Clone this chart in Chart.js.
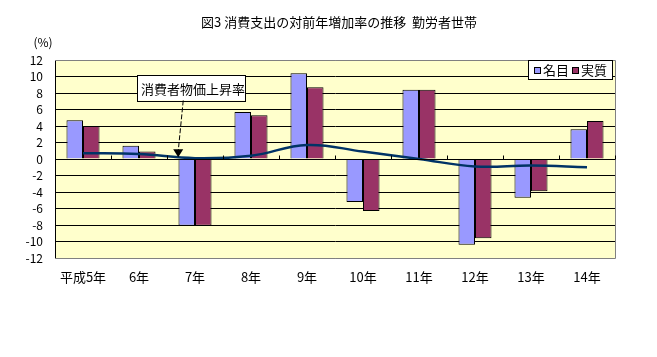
<!DOCTYPE html>
<html>
<head>
<meta charset="utf-8">
<script src="https://cdn.jsdelivr.net/npm/chart.js@4"></script>
<style>
  html, body { margin: 0; padding: 0; background: #fff; }
  #wrap { width: 657px; height: 357px; position: relative; }
</style>
</head>
<body>
<div id="wrap"><canvas id="c" width="657" height="357"></canvas></div>
<script>
const titleText = "図3 消費支出の対前年増加率の推移  勤労者世帯";
const unitText = "(%)";
const categories = ["平成5年", "6年", "7年", "8年", "9年", "10年", "11年", "12年", "13年", "14年"];
const nominal = [4.7, 1.6, -8.1, 5.7, 10.4, -5.2, 8.4, -10.4, -4.7, 3.6];
const real = [4.0, 0.9, -8.1, 5.3, 8.7, -6.3, 8.4, -9.6, -3.9, 4.6];
const cpi = [0.7, 0.6, 0.1, 0.4, 1.7, 0.9, 0.0, -0.9, -0.8, -1.0];
const seriesNames = ["名目", "実質", "消費者物価上昇率"];
const yTicks = [-12, -10, -8, -6, -4, -2, 0, 2, 4, 6, 8, 10, 12];

const JP = '"Noto Sans CJK JP", "Noto Sans", sans-serif';

const decor = {
  id: 'decor',
  beforeDraw(chart) {
    const {ctx, chartArea: a} = chart;
    ctx.save();
    ctx.fillStyle = '#FFFFCC';
    ctx.fillRect(a.left, a.top, a.right - a.left, a.bottom - a.top);
    ctx.restore();
  },
  afterDatasetsDraw(chart) {
    const {ctx, chartArea: a, scales} = chart;
    const x = scales.x, y = scales.y;
    ctx.save();
    ctx.strokeStyle = '#808080';
    ctx.lineWidth = 1;
    ctx.beginPath();
    ctx.moveTo(a.left, a.top + 0.5); ctx.lineTo(a.right + 0.5, a.top + 0.5);
    ctx.lineTo(a.right + 0.5, a.bottom + 0.5); ctx.lineTo(a.left, a.bottom + 0.5);
    ctx.stroke();
    const y0 = Math.round(y.getPixelForValue(0)) + 0.5;
    ctx.strokeStyle = '#000';
    ctx.beginPath();
    ctx.moveTo(a.left, y0); ctx.lineTo(a.right, y0);
    for (let i = 0; i <= categories.length; i++) {
      const px = Math.round(x.getPixelForValue(i - 0.5)) + 0.5;
      ctx.moveTo(px, y0); ctx.lineTo(px, y0 - 4);
    }
    ctx.stroke();
    ctx.restore();
  },
  afterDraw(chart) {
    const {ctx, chartArea: a, scales} = chart;
    const x = scales.x, y = scales.y;
    ctx.save();
    ctx.fillStyle = '#000';
    ctx.font = '13px ' + JP;
    ctx.textAlign = 'center';
    ctx.textBaseline = 'middle';
    ctx.fillText(titleText, 339, 22);
    ctx.font = '12px ' + JP;
    ctx.fillText(unitText, 43, 42);

    // legend box
    const lx = 528, ly = a.top, lw = 84, lh = 19;
    ctx.fillStyle = '#fff';
    ctx.fillRect(lx, ly, lw, lh);
    ctx.strokeStyle = '#000';
    ctx.lineWidth = 1;
    ctx.strokeRect(lx + 0.5, ly + 0.5, lw, lh);
    const ds = chart.data.datasets;
    const items = [[534, 543, ds[1]], [572, 581, ds[2]]];
    ctx.font = '13px ' + JP;
    ctx.textAlign = 'left';
    ctx.textBaseline = 'middle';
    for (const [sx, tx, d] of items) {
      ctx.fillStyle = d.backgroundColor;
      ctx.fillRect(sx, ly + 7, 6, 6);
      ctx.strokeRect(sx + 0.5, ly + 7.5, 6, 6);
      ctx.fillStyle = '#000';
      ctx.fillText(d.label, tx, ly + 10);
    }

    // callout
    const bx1 = x.getPixelForValue(0.964), bx2 = x.getPixelForValue(2.9);
    const by1 = y.getPixelForValue(10.2), by2 = y.getPixelForValue(7.1);
    ctx.fillStyle = '#fff';
    ctx.fillRect(bx1, by1, bx2 - bx1, by2 - by1);
    ctx.strokeRect(Math.round(bx1) + 0.5, Math.round(by1) + 0.5, Math.round(bx2 - bx1), Math.round(by2 - by1));
    ctx.fillStyle = '#000';
    ctx.font = '13px ' + JP;
    ctx.textAlign = 'left';
    ctx.fillText(seriesNames[2], bx1 + 4, (by1 + by2) / 2 + 1);
    const sxp = x.getPixelForValue(1.79), syp = by2;
    const tipx = x.getPixelForValue(1.7), tipy = y.getPixelForValue(0.2);
    ctx.setLineDash([5, 2]);
    ctx.beginPath();
    ctx.moveTo(sxp, syp);
    ctx.lineTo(tipx, tipy - 6);
    ctx.stroke();
    ctx.setLineDash([]);
    ctx.beginPath();
    ctx.moveTo(tipx - 5, tipy - 8);
    ctx.lineTo(tipx + 5, tipy - 8);
    ctx.lineTo(tipx, tipy);
    ctx.closePath();
    ctx.fill();
    ctx.restore();
  }
};

new Chart(document.getElementById('c'), {
  type: 'bar',
  data: {
    labels: categories,
    datasets: [
      {
        type: 'line',
        label: seriesNames[2],
        data: cpi,
        borderColor: '#003366',
        borderWidth: 2.5,
        pointRadius: 0,
        tension: 0.4,
        fill: false,
        order: 0
      },
      {
        label: seriesNames[0],
        data: nominal,
        backgroundColor: '#9999FF',
        borderColor: '#000',
        borderWidth: 1,
        categoryPercentage: 0.59,
        barPercentage: 1.0,
        order: 1
      },
      {
        label: seriesNames[1],
        data: real,
        backgroundColor: '#993366',
        borderColor: '#000',
        borderWidth: 1,
        categoryPercentage: 0.59,
        barPercentage: 1.0,
        order: 1
      }
    ]
  },
  options: {
    responsive: false,
    animation: false,
    devicePixelRatio: 1,
    layout: { padding: { left: 0, right: 42, top: 60, bottom: 69 } },
    plugins: {
      legend: { display: false },
      title: { display: false },
      tooltip: { enabled: false }
    },
    scales: {
      x: {
        offset: true,
        grid: { display: false, drawTicks: false },
        border: { display: false },
        ticks: { color: '#000', padding: 11, font: { family: JP, size: 13 }, maxRotation: 0, autoSkip: false },
        afterFit(s) { s.height = 30; }
      },
      y: {
        min: -12,
        max: 12,
        afterBuildTicks(s) { s.ticks = yTicks.map(v => ({ value: v })); },
        grid: {
          drawTicks: false,
          color: (c) => (c.tick && (c.tick.value === 12 || c.tick.value === -12)) ? '#808080' : '#000',
          lineWidth: 1
        },
        border: { display: true, color: '#000', width: 1 },
        ticks: { color: '#000', padding: 12, autoSkip: false, font: { family: JP, size: 12 } },
        afterFit(s) { s.width = 55; }
      }
    }
  },
  plugins: [decor]
});
</script>
</body>
</html>
